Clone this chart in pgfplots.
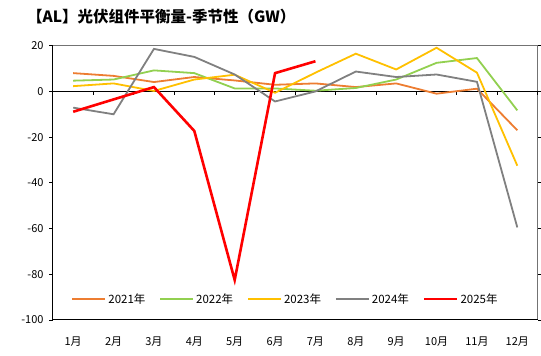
\documentclass[border=0pt]{standalone}
\usepackage{pgfplots}
\pgfplotsset{compat=1.18}
\usepackage{fontspec}
\setmainfont{Noto Sans CJK SC}
\definecolor{c21}{HTML}{ED7D31}
\definecolor{c22}{HTML}{92D050}
\definecolor{c23}{HTML}{FFC000}
\definecolor{c24}{HTML}{808080}
\definecolor{c25}{HTML}{FF0000}
\begin{document}
\begin{tikzpicture}
\path[use as bounding box] (-53pt,-36pt) rectangle (488pt,320pt);
\node[anchor=west, inner sep=0pt, font=\fontsize{15.5}{17}\selectfont\bfseries] at (-26pt,303pt) {【AL】光伏组件平衡量-季节性（GW）};
\begin{axis}[
  at={(0pt,0pt)}, anchor=south west,
  scale only axis, width=484.5pt, height=274.3pt,
  xmin=0.5, xmax=12.5, ymin=-100, ymax=20,
  ytick={-100,-80,...,20},
  xtick={1,...,12},
  xticklabels={1月,2月,3月,4月,5月,6月,7月,8月,9月,10月,11月,12月},
  major x tick style={draw=none},
  major y tick style={black, line width=0.8pt},
  tick align=outside, major tick length=4pt,
  axis line style={draw=none},
  tick label style={font=\fontsize{11}{12}\selectfont},
  /pgf/number format/assume math mode=true,
  xticklabel style={yshift=-9pt},
  yticklabel style={xshift=-2pt},
  legend style={at={(rel axis cs:0.48,0.0766)}, anchor=center, draw=none, fill=none,
    font=\fontsize{11.5}{12}\selectfont, legend columns=5,
    /tikz/every even column/.append style={column sep=12pt}},
  legend image code/.code={\draw[#1] (0pt,0pt) -- (33pt,0pt);},
  clip=false,
]
\draw[c24!90!black, line width=0.8pt] (rel axis cs:0,1) -- (rel axis cs:1,1) -- (rel axis cs:1,0);
\draw[black, line width=1pt] (rel axis cs:0,0) -- (rel axis cs:1,0);
\draw[black, line width=1pt] (rel axis cs:0,0) -- (rel axis cs:0,1);
\draw[black, line width=0.8pt] (axis cs:0.5,0) -- (axis cs:12.5,0);
\pgfplotsinvokeforeach{1.5,2.5,3.5,4.5,5.5,6.5,7.5,8.5,9.5,10.5,11.5,12.5}{
  \draw[black, line width=0.8pt] (axis cs:#1,0) -- ++(0pt,-4pt);
}
\addplot[c21, line width=1.8pt] coordinates {(1,8.0)(2,6.8)(3,4.1)(4,6.3)(5,4.8)(6,2.9)(7,3.5)(8,1.9)(9,3.5)(10,-1.0)(11,1.2)(12,-17.0)};
\addlegendentry{2021年}
\addplot[c22, line width=1.8pt] coordinates {(1,4.7)(2,5.2)(3,9.2)(4,8.0)(5,1.3)(6,1.3)(7,0.3)(8,1.5)(9,5.2)(10,12.5)(11,14.6)(12,-8.3)};
\addlegendentry{2022年}
\addplot[c23, line width=1.8pt] coordinates {(1,2.3)(2,3.5)(3,0.2)(4,5.2)(5,7.3)(6,-0.6)(7,8.2)(8,16.5)(9,9.6)(10,19.1)(11,8.2)(12,-32.5)};
\addlegendentry{2023年}
\addplot[c24, line width=1.8pt] coordinates {(1,-7.1)(2,-10.0)(3,18.6)(4,15.1)(5,7.4)(6,-4.4)(7,0.0)(8,8.7)(9,6.3)(10,7.4)(11,4.2)(12,-59.5)};
\addlegendentry{2024年}
\addplot[c25, line width=2.6pt] coordinates {(1,-8.9)(2,-3.5)(3,1.9)(4,-17.3)(5,-82.5)(6,8.0)(7,13.2)};
\addlegendentry{2025年}
\end{axis}
\end{tikzpicture}
\end{document}
